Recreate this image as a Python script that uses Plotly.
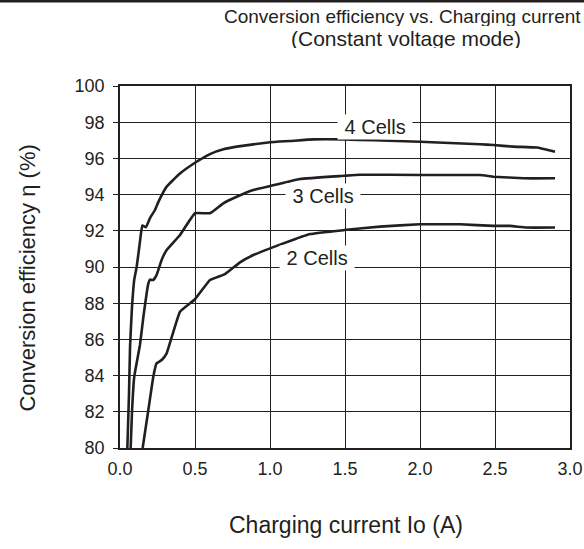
import plotly.graph_objects as go

# ---- data ----
x_4cells = [0.049, 0.06, 0.067, 0.08, 0.095, 0.111, 0.13, 0.149, 0.173, 0.2, 0.233, 0.256,
            0.311, 0.396, 0.5, 0.6, 0.689, 0.778, 1.0, 1.133, 1.289, 1.495, 1.689, 2.0,
            2.4, 2.49, 2.62, 2.78, 2.9]
y_4cells = [80.0, 83.0, 85.6, 87.8, 89.3, 90.0, 91.2, 92.3, 92.2, 92.7, 93.15, 93.6,
            94.44, 95.14, 95.76, 96.24, 96.5, 96.65, 96.89, 96.96, 97.05, 97.05, 97.0, 96.92,
            96.78, 96.74, 96.65, 96.6, 96.37]

x_3cells = [0.071, 0.08, 0.095, 0.133, 0.156, 0.189, 0.2, 0.222, 0.244, 0.278, 0.311, 0.4,
            0.5, 0.6, 0.689, 0.778, 0.889, 1.0, 1.2, 1.495, 1.6, 2.0, 2.4, 2.49, 2.69, 2.9]
y_3cells = [80.0, 82.0, 83.94, 85.69, 87.25, 89.1, 89.3, 89.28, 89.56, 90.4, 90.94, 91.77,
            92.97, 92.97, 93.52, 93.88, 94.25, 94.47, 94.86, 95.04, 95.1, 95.08, 95.08, 94.99,
            94.9, 94.9]

x_2cells = [0.151, 0.189, 0.222, 0.244, 0.278, 0.311, 0.4, 0.5, 0.6, 0.7, 0.8, 0.889, 1.0,
            1.133, 1.267, 1.495, 1.733, 2.0, 2.267, 2.49, 2.6, 2.71, 2.9]
y_2cells = [80.0, 82.1, 83.94, 84.68, 84.86, 85.23, 87.53, 88.22, 89.28, 89.61, 90.26, 90.66,
            91.03, 91.44, 91.82, 92.04, 92.23, 92.36, 92.36, 92.27, 92.27, 92.18, 92.18]

series_names = ["4 Cells", "3 Cells", "2 Cells"]
label_x = [1.70, 1.35, 1.31]
label_y = [97.73, 93.95, 90.47]

x_ticks = [0.0, 0.5, 1.0, 1.5, 2.0, 2.5, 3.0]
y_ticks = [80, 82, 84, 86, 88, 90, 92, 94, 96, 98, 100]

title_line1 = "Conversion efficiency vs. Charging current"
title_line2 = "(Constant voltage mode)"
x_title = "Charging current Io (A)"
y_title = "Conversion efficiency η (%)"

INK = "#231f20"
FONT = "Liberation Sans, Arial, Helvetica, sans-serif"

fig = go.Figure()
for name, xs, ys in zip(series_names,
                        [x_4cells, x_3cells, x_2cells],
                        [y_4cells, y_3cells, y_2cells]):
    fig.add_trace(go.Scatter(x=xs, y=ys, mode="lines", name=name,
                             line=dict(color=INK, width=2.6, shape="spline", smoothing=0.3),
                             showlegend=False, hoverinfo="x+y+name"))

annotations = []
for name, lx, ly in zip(series_names, label_x, label_y):
    annotations.append(dict(x=lx, y=ly, xref="x", yref="y", text=" " + name + " ",
                            showarrow=False, bgcolor="white", borderpad=1,
                            font=dict(family=FONT, size=20, color=INK)))

annotations += [
    dict(x=0.627, y=1.193, xref="paper", yref="paper", text=title_line1, showarrow=False,
         xanchor="center", yanchor="middle", height=20,
         font=dict(family=FONT, size=19, color=INK)),
    dict(x=0.636, y=1.133, xref="paper", yref="paper", text=title_line2, showarrow=False,
         xanchor="center", yanchor="middle", height=20,
         font=dict(family=FONT, size=21, color=INK)),
    dict(x=0.503, y=-0.213, xref="paper", yref="paper", text=x_title, showarrow=False,
         xanchor="center", yanchor="middle", font=dict(family=FONT, size=23, color=INK)),
    dict(x=-0.205, y=0.47, xref="paper", yref="paper", text=y_title, showarrow=False,
         textangle=-90, xanchor="center", yanchor="middle",
         font=dict(family=FONT, size=22, color=INK)),
]

PLOT_H = 362.0
fig.update_layout(
    width=584, height=549,
    margin=dict(l=120, r=14, t=86, b=101, autoexpand=False),
    paper_bgcolor="white", plot_bgcolor="white",
    font=dict(family=FONT, color=INK),
    annotations=annotations,
    shapes=[dict(type="rect", xref="paper", yref="paper", x0=-0.5, x1=1.5,
                 y0=1.0 + 83.5 / PLOT_H, y1=1.0 + 88.0 / PLOT_H,
                 fillcolor=INK, line=dict(width=0), layer="above")],
)
fig.update_xaxes(range=[0, 3], tickvals=x_ticks, ticktext=[f"{v:.1f}" for v in x_ticks],
                 showgrid=True, gridcolor=INK, gridwidth=1,
                 showline=True, linecolor=INK, linewidth=1.5, mirror=True,
                 ticks="", ticklabelstandoff=4, zeroline=False,
                 tickfont=dict(family=FONT, size=18, color=INK))
fig.update_yaxes(range=[80, 100], tickvals=y_ticks,
                 showgrid=True, gridcolor=INK, gridwidth=1,
                 showline=True, linecolor=INK, linewidth=1.5, mirror=True,
                 ticks="outside", ticklen=5, tickcolor=INK, tickwidth=1,
                 ticklabelstandoff=5, zeroline=False,
                 tickfont=dict(family=FONT, size=18, color=INK))

fig.write_html("out.html", config={"displayModeBar": False},
               post_script="document.body.style.margin='0';document.body.style.overflow='hidden';")
